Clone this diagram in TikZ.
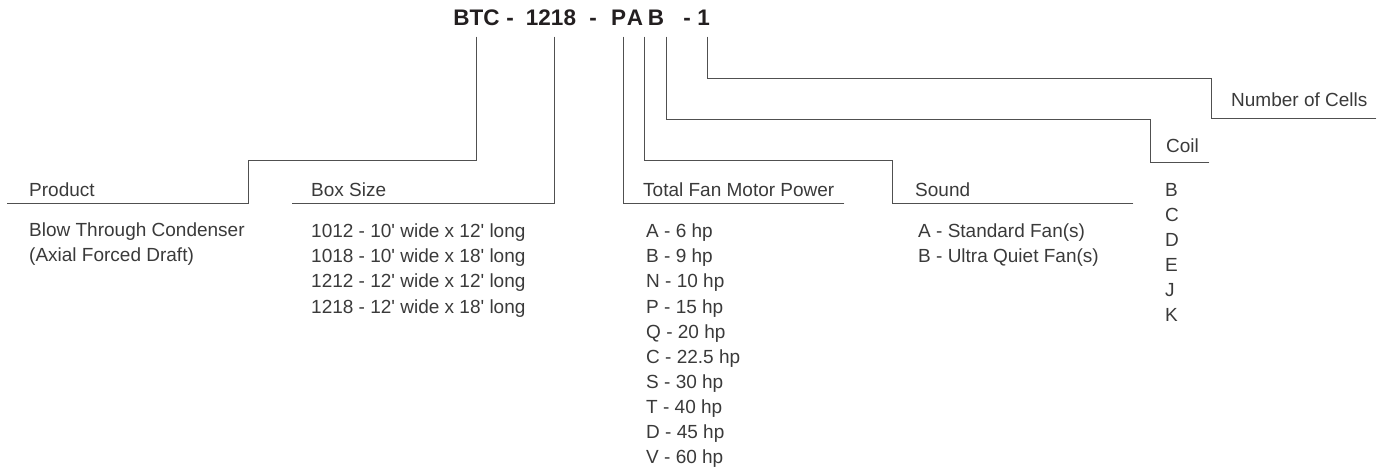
\documentclass[tikz,border=0pt]{standalone}
\usepackage{fontspec}
\setmainfont{Liberation Sans}[Ligatures=TeXOff]
\usepackage{tikz}
\definecolor{codeink}{HTML}{231F20}
\definecolor{textink}{HTML}{3A3A3A}
\definecolor{leadink}{HTML}{505050}

\begin{document}
\begin{tikzpicture}[x=1pt,y=-1pt,line cap=rect,
  codepart/.style={font=\fontsize{22.5}{27}\selectfont\bfseries,text=codeink,inner sep=0pt,anchor=base},
  heading/.style={font=\fontsize{19}{25}\selectfont,text=textink,inner sep=0pt,anchor=base west},
  entry/.style={heading},
  leader/.style={draw=leadink,line width=.9pt}]
  \useasboundingbox (0,0) rectangle (1384,470);

  % model code
  \node[codepart] (btc)   at (476.5,25.7) {BTC};
  \node[codepart] (dashA) at (510,25.7)   {-};
  \node[codepart] (box)   at (551,25.7)   {1218};
  \node[codepart] (dashB) at (593,25.7)   {-};
  \node[codepart] (fanP)  at (618.5,25.7) {P};
  \node[codepart] (sndA)  at (635,25.7)   {A};
  \node[codepart] (coilB) at (656,25.7)   {B};
  \node[codepart] (dashC) at (687,25.7)   {-};
  \node[codepart] (cells) at (703.5,25.7) {1};

  \coordinate (tBTC)   at (476,37);
  \coordinate (tBox)   at (554,37);
  \coordinate (tFan)   at (623,37);
  \coordinate (tSound) at (644,37);
  \coordinate (tCoil)  at (666,37);
  \coordinate (tCells) at (707,37);

  % headings
  \node[heading] (product) at (29,197)    {Product};
  \node[heading] (boxsize) at (311,197)   {Box Size};
  \node[heading] (fanpow)  at (643,197)   {Total Fan Motor Power};
  \node[heading] (sound)   at (915,197)   {Sound};
  \node[heading] (coil)    at (1166,153)  {Coil};
  \node[heading] (ncells)  at (1231,107)  {Number of Cells};

  \coordinate (uProduct) at (7,203);
  \coordinate (uBox)     at (292,203);
  \coordinate (uFan)     at (844,203);
  \coordinate (uSound)   at (1133,203);
  \coordinate (uCoil)    at (1209,162);
  \coordinate (uCells)   at (1376,118);

  % leaders
  \draw[leader] (tBTC) |- (248,160) |- (uProduct);
  \draw[leader] (tBox) |- (uBox);
  \draw[leader] (tFan) |- (uFan);
  \draw[leader] (tSound) |- (892,160) |- (uSound);
  \draw[leader] (tCoil) |- (1150,119) |- (uCoil);
  \draw[leader] (tCells) |- (1211,78) |- (uCells);

  % option lists
  \foreach \txt [count=\i] in {Blow Through Condenser,(Axial Forced Draft)}
    \node[entry] (prod\i) at (29,212+25*\i) {\txt};
  \foreach \txt [count=\i] in {1012 - 10' wide x 12' long,1018 - 10' wide x 18' long,
      1212 - 12' wide x 12' long,1218 - 12' wide x 18' long}
    \node[entry] (size\i) at (311,213+25*\i) {\txt};
  \foreach \txt [count=\i] in {A - 6 hp,B - 9 hp,N - 10 hp,P - 15 hp,Q - 20 hp,
      C - 22.5 hp,S - 30 hp,T - 40 hp,D - 45 hp,V - 60 hp}
    \node[entry] (fan\i) at (646,213+25*\i) {\txt};
  \foreach \txt [count=\i] in {A - Standard Fan(s),B - Ultra Quiet Fan(s)}
    \node[entry] (snd\i) at (918,213+25*\i) {\txt};
  \foreach \txt [count=\i] in {B,C,D,E,J,K}
    \node[entry] (coil\i) at (1165,172+25*\i) {\txt};
\end{tikzpicture}
\end{document}
